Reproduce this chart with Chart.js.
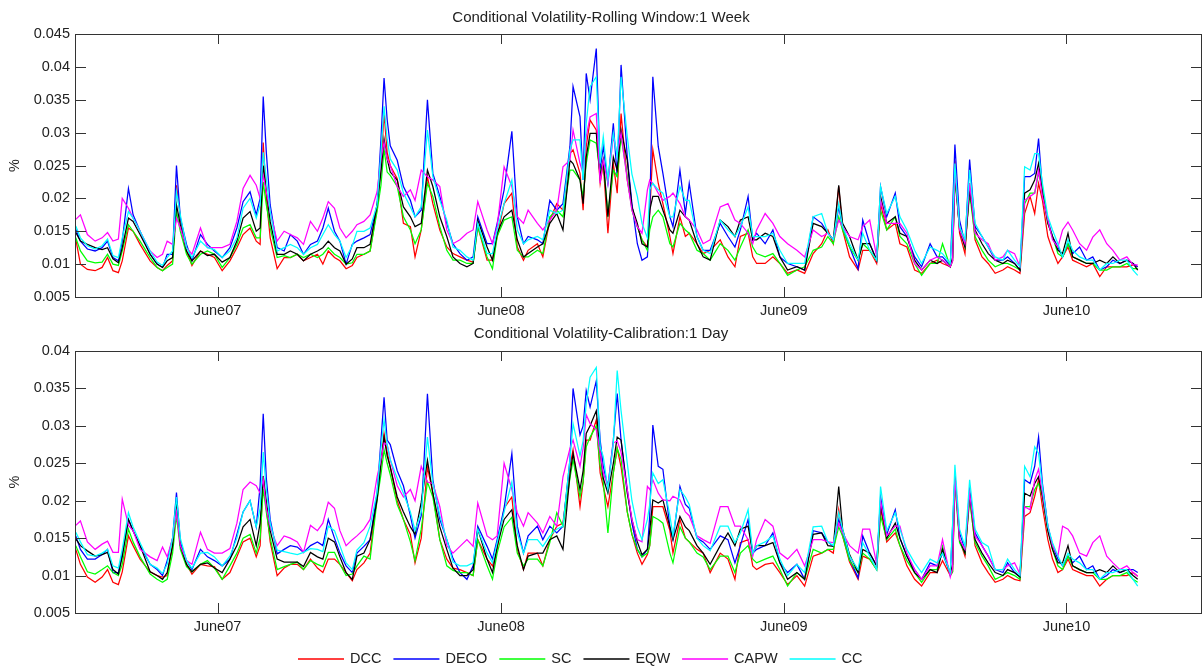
<!DOCTYPE html>
<html>
<head>
<meta charset="utf-8">
<title>Conditional Volatility</title>
<script src="https://cdn.jsdelivr.net/npm/chart.js@4.4.0/dist/chart.umd.min.js"></script>
<style>
  html, body { margin: 0; padding: 0; background: #fff; }
  body { width: 1204px; height: 671px; position: relative; overflow: hidden; }
  canvas { position: absolute; left: 0; }
  #week { top: 0; }
  #day { top: 316px; }
</style>
</head>
<body>
<canvas id="week" width="1204" height="318"></canvas>
<canvas id="day" width="1204" height="355"></canvas>
<script>
// days counted from 1 Dec 2006
var days = [
  -1,5,14,24,33,40,47,54,59,67,
  73,82,95,104,111,117,124,129,134,142,
  149,160,169,178,188,198,207,215,224,232,
  237,241,245,250,259,268,276,285,293,302,
  311,318,325,333,340,348,356,362,371,379,
  388,393,397,401,405,414,422,431,437,445,
  453,460,469,478,486,495,504,512,518,530,
  537,543,552,562,569,577,583,595,602,611,
  620,628,637,641,650,654,658,663,671,676,
  680,686,693,698,703,711,717,724,730,737,
  740,744,751,757,766,770,779,786,791,801,
  809,818,831,841,850,857,867,873,878,889,
  899,908,918,930,940,951,962,970,977,984,
  989,998,1009,1015,1024,1033,1038,1046,1057,1063,
  1072,1082,1091,1102,1111,1118,1128,1131,1134,1140,
  1147,1153,1160,1169,1177,1186,1196,1202,1211,1218,
  1224,1231,1237,1242,1247,1254,1260,1267,1273,1280,
  1286,1295,1304,1312,1321,1330,1338,1347,1356,1364,1370
];
var xTickDays = [182, 548, 913, 1278];
var xTickLabels = ['June07', 'June08', 'June09', 'June10'];

var seriesNames = ['DCC', 'DECO', 'SC', 'EQW', 'CAPW', 'CC'];
var seriesColors = ['#ff0000', '#0000ff', '#00ff00', '#000000', '#ff00ff', '#00ffff'];

var yTicksWeek = [0.005, 0.01, 0.015, 0.02, 0.025, 0.03, 0.035, 0.04, 0.045];
var yLabelsWeek = ['0.005', '0.01', '0.015', '0.02', '0.025', '0.03', '0.035', '0.04', '0.045'];
var yTicksDay = [0.005, 0.01, 0.015, 0.02, 0.025, 0.03, 0.035, 0.04];
var yLabelsDay = ['0.005', '0.01', '0.015', '0.02', '0.025', '0.03', '0.035', '0.04'];

// Rolling Window: 1 Week
var dccWeek = [
  0.0138,0.0100,0.0092,0.0090,0.0095,0.0110,0.0090,0.0087,0.0105,0.0155,
  0.0150,0.0130,0.0105,0.0095,0.0090,0.0098,0.0105,0.0220,0.0170,0.0120,
  0.0098,0.0120,0.0115,0.0110,0.0090,0.0105,0.0125,0.0145,0.0155,0.0135,
  0.0130,0.0285,0.0200,0.0140,0.0093,0.0110,0.0110,0.0115,0.0105,0.0110,
  0.0115,0.0100,0.0120,0.0110,0.0105,0.0093,0.0098,0.0110,0.0115,0.0120,
  0.0185,0.0250,0.0330,0.0270,0.0250,0.0230,0.0162,0.0157,0.0111,0.0152,
  0.0233,0.0192,0.0152,0.0126,0.0116,0.0111,0.0106,0.0103,0.0157,0.0106,
  0.0106,0.0142,0.0192,0.0208,0.0126,0.0106,0.0121,0.0131,0.0111,0.0167,
  0.0192,0.0182,0.0268,0.0274,0.0238,0.0182,0.0279,0.0319,0.0304,0.0223,
  0.0253,0.0147,0.0253,0.0208,0.0329,0.0228,0.0187,0.0157,0.0137,0.0126,
  0.0177,0.0274,0.0223,0.0192,0.0142,0.0116,0.0172,0.0142,0.0147,0.0131,
  0.0116,0.0121,0.0137,0.0111,0.0096,0.0142,0.0147,0.0111,0.0101,0.0101,
  0.0111,0.0101,0.0086,0.0091,0.0086,0.0116,0.0131,0.0152,0.0131,0.0218,
  0.0152,0.0111,0.0091,0.0121,0.0121,0.0101,0.0192,0.0152,0.0162,0.0131,
  0.0126,0.0091,0.0086,0.0101,0.0106,0.0101,0.0096,0.0105,0.0258,0.0147,
  0.0116,0.0223,0.0137,0.0111,0.0101,0.0086,0.0091,0.0096,0.0091,0.0086,
  0.0177,0.0203,0.0177,0.0223,0.0197,0.0142,0.0121,0.0101,0.0111,0.0126,
  0.0106,0.0101,0.0096,0.0101,0.0081,0.0096,0.0096,0.0096,0.0096,0.0099,0.0096
];
var decoWeek = [
  0.0153,0.0135,0.0123,0.0120,0.0125,0.0135,0.0110,0.0105,0.0135,0.0215,
  0.0175,0.0150,0.0115,0.0100,0.0095,0.0115,0.0115,0.0250,0.0170,0.0130,
  0.0105,0.0145,0.0130,0.0120,0.0110,0.0125,0.0155,0.0195,0.0210,0.0175,
  0.0200,0.0355,0.0270,0.0190,0.0125,0.0120,0.0145,0.0135,0.0115,0.0130,
  0.0135,0.0155,0.0185,0.0150,0.0135,0.0100,0.0130,0.0135,0.0140,0.0145,
  0.0190,0.0290,0.0383,0.0320,0.0280,0.0258,0.0218,0.0197,0.0172,0.0182,
  0.0350,0.0238,0.0203,0.0162,0.0131,0.0116,0.0106,0.0111,0.0172,0.0131,
  0.0131,0.0162,0.0213,0.0302,0.0172,0.0131,0.0142,0.0137,0.0131,0.0197,
  0.0182,0.0192,0.0279,0.0370,0.0324,0.0228,0.0390,0.0350,0.0428,0.0243,
  0.0279,0.0223,0.0314,0.0233,0.0403,0.0263,0.0192,0.0131,0.0106,0.0111,
  0.0182,0.0385,0.0279,0.0238,0.0172,0.0157,0.0243,0.0177,0.0223,0.0142,
  0.0121,0.0121,0.0162,0.0142,0.0126,0.0152,0.0203,0.0137,0.0147,0.0131,
  0.0152,0.0111,0.0101,0.0096,0.0091,0.0172,0.0162,0.0147,0.0137,0.0187,
  0.0157,0.0126,0.0093,0.0167,0.0131,0.0106,0.0218,0.0172,0.0208,0.0157,
  0.0142,0.0111,0.0096,0.0131,0.0111,0.0111,0.0098,0.0182,0.0282,0.0167,
  0.0131,0.0259,0.0157,0.0142,0.0126,0.0106,0.0106,0.0111,0.0101,0.0091,
  0.0233,0.0233,0.0238,0.0291,0.0213,0.0167,0.0142,0.0126,0.0111,0.0131,
  0.0116,0.0126,0.0106,0.0111,0.0091,0.0096,0.0106,0.0101,0.0106,0.0101,0.0096
];
var scWeek = [
  0.0140,0.0120,0.0105,0.0102,0.0103,0.0115,0.0100,0.0098,0.0120,0.0160,
  0.0150,0.0135,0.0110,0.0095,0.0090,0.0095,0.0100,0.0180,0.0150,0.0115,
  0.0100,0.0115,0.0120,0.0115,0.0095,0.0110,0.0130,0.0155,0.0160,0.0140,
  0.0140,0.0225,0.0190,0.0155,0.0110,0.0113,0.0110,0.0115,0.0110,0.0115,
  0.0110,0.0115,0.0125,0.0115,0.0110,0.0100,0.0102,0.0115,0.0115,0.0120,
  0.0180,0.0220,0.0275,0.0240,0.0235,0.0218,0.0172,0.0152,0.0131,0.0152,
  0.0223,0.0203,0.0157,0.0121,0.0106,0.0106,0.0101,0.0101,0.0157,0.0111,
  0.0093,0.0142,0.0167,0.0172,0.0121,0.0111,0.0111,0.0121,0.0116,0.0172,
  0.0182,0.0172,0.0243,0.0243,0.0228,0.0203,0.0253,0.0289,0.0284,0.0238,
  0.0258,0.0177,0.0243,0.0233,0.0294,0.0233,0.0182,0.0157,0.0137,0.0121,
  0.0152,0.0172,0.0182,0.0172,0.0131,0.0126,0.0162,0.0152,0.0147,0.0121,
  0.0116,0.0106,0.0131,0.0121,0.0106,0.0126,0.0152,0.0126,0.0116,0.0111,
  0.0116,0.0101,0.0083,0.0091,0.0096,0.0121,0.0126,0.0142,0.0131,0.0172,
  0.0152,0.0126,0.0106,0.0131,0.0121,0.0106,0.0182,0.0152,0.0172,0.0142,
  0.0131,0.0101,0.0083,0.0101,0.0101,0.0131,0.0096,0.0105,0.0228,0.0157,
  0.0126,0.0208,0.0142,0.0121,0.0106,0.0096,0.0101,0.0101,0.0096,0.0091,
  0.0192,0.0208,0.0208,0.0238,0.0218,0.0162,0.0142,0.0116,0.0111,0.0131,
  0.0111,0.0106,0.0101,0.0101,0.0091,0.0091,0.0096,0.0096,0.0101,0.0093,0.0093
];
var eqwWeek = [
  0.0148,0.0135,0.0130,0.0125,0.0122,0.0125,0.0108,0.0102,0.0125,0.0170,
  0.0165,0.0145,0.0115,0.0100,0.0095,0.0105,0.0110,0.0190,0.0160,0.0120,
  0.0105,0.0120,0.0113,0.0115,0.0103,0.0110,0.0135,0.0170,0.0180,0.0150,
  0.0155,0.0250,0.0210,0.0165,0.0115,0.0115,0.0120,0.0115,0.0105,0.0115,
  0.0120,0.0125,0.0135,0.0125,0.0120,0.0100,0.0108,0.0125,0.0125,0.0130,
  0.0190,0.0240,0.0290,0.0260,0.0240,0.0228,0.0187,0.0172,0.0157,0.0162,
  0.0243,0.0218,0.0172,0.0142,0.0111,0.0101,0.0096,0.0101,0.0167,0.0126,
  0.0106,0.0147,0.0172,0.0182,0.0137,0.0111,0.0116,0.0126,0.0131,0.0162,
  0.0177,0.0152,0.0258,0.0253,0.0228,0.0192,0.0263,0.0299,0.0299,0.0233,
  0.0258,0.0172,0.0263,0.0243,0.0304,0.0258,0.0187,0.0162,0.0131,0.0126,
  0.0182,0.0203,0.0203,0.0182,0.0152,0.0147,0.0182,0.0172,0.0167,0.0131,
  0.0111,0.0106,0.0167,0.0157,0.0142,0.0167,0.0172,0.0137,0.0137,0.0147,
  0.0142,0.0111,0.0091,0.0096,0.0091,0.0162,0.0157,0.0147,0.0137,0.0220,
  0.0162,0.0142,0.0106,0.0131,0.0131,0.0106,0.0203,0.0162,0.0172,0.0147,
  0.0142,0.0106,0.0091,0.0106,0.0101,0.0106,0.0096,0.0110,0.0238,0.0152,
  0.0126,0.0213,0.0152,0.0131,0.0116,0.0106,0.0101,0.0106,0.0101,0.0091,
  0.0208,0.0213,0.0228,0.0253,0.0208,0.0162,0.0142,0.0121,0.0116,0.0147,
  0.0111,0.0106,0.0101,0.0101,0.0106,0.0101,0.0111,0.0101,0.0106,0.0101,0.0091
];
var capwWeek = [
  0.0168,0.0175,0.0145,0.0135,0.0140,0.0148,0.0135,0.0138,0.0200,0.0185,
  0.0170,0.0150,0.0120,0.0110,0.0115,0.0135,0.0130,0.0170,0.0155,0.0125,
  0.0115,0.0155,0.0125,0.0125,0.0125,0.0130,0.0165,0.0215,0.0235,0.0220,
  0.0200,0.0235,0.0210,0.0180,0.0135,0.0150,0.0145,0.0140,0.0130,0.0165,
  0.0150,0.0170,0.0195,0.0185,0.0155,0.0140,0.0150,0.0160,0.0165,0.0175,
  0.0210,0.0260,0.0285,0.0260,0.0250,0.0218,0.0203,0.0213,0.0197,0.0243,
  0.0233,0.0228,0.0218,0.0152,0.0131,0.0137,0.0147,0.0152,0.0195,0.0152,
  0.0131,0.0157,0.0248,0.0218,0.0172,0.0162,0.0182,0.0162,0.0152,0.0167,
  0.0182,0.0248,0.0258,0.0304,0.0253,0.0238,0.0294,0.0324,0.0329,0.0223,
  0.0258,0.0223,0.0294,0.0268,0.0299,0.0228,0.0182,0.0157,0.0147,0.0213,
  0.0228,0.0223,0.0208,0.0197,0.0203,0.0208,0.0192,0.0172,0.0167,0.0152,
  0.0131,0.0137,0.0187,0.0192,0.0167,0.0162,0.0147,0.0131,0.0152,0.0177,
  0.0162,0.0142,0.0131,0.0121,0.0111,0.0152,0.0142,0.0147,0.0137,0.0167,
  0.0157,0.0142,0.0137,0.0157,0.0167,0.0111,0.0197,0.0162,0.0162,0.0162,
  0.0147,0.0101,0.0091,0.0106,0.0111,0.0106,0.0096,0.0105,0.0243,0.0152,
  0.0131,0.0223,0.0147,0.0137,0.0131,0.0106,0.0111,0.0121,0.0116,0.0096,
  0.0197,0.0203,0.0208,0.0243,0.0203,0.0167,0.0137,0.0126,0.0152,0.0164,
  0.0152,0.0131,0.0121,0.0141,0.0152,0.0131,0.0121,0.0106,0.0111,0.0099,0.0099
];
var ccWeek = [
  0.0158,0.0140,0.0128,0.0123,0.0128,0.0138,0.0113,0.0110,0.0140,0.0180,
  0.0170,0.0150,0.0120,0.0103,0.0098,0.0110,0.0120,0.0210,0.0175,0.0125,
  0.0110,0.0135,0.0125,0.0122,0.0110,0.0120,0.0140,0.0185,0.0200,0.0170,
  0.0190,0.0270,0.0230,0.0180,0.0120,0.0125,0.0130,0.0125,0.0115,0.0125,
  0.0130,0.0145,0.0160,0.0145,0.0135,0.0110,0.0128,0.0150,0.0150,0.0155,
  0.0190,0.0270,0.0340,0.0290,0.0260,0.0243,0.0208,0.0187,0.0172,0.0187,
  0.0304,0.0233,0.0197,0.0167,0.0126,0.0121,0.0111,0.0106,0.0162,0.0116,
  0.0116,0.0152,0.0192,0.0228,0.0152,0.0131,0.0137,0.0142,0.0137,0.0182,
  0.0177,0.0182,0.0274,0.0289,0.0289,0.0228,0.0314,0.0370,0.0385,0.0253,
  0.0294,0.0228,0.0299,0.0263,0.0385,0.0294,0.0237,0.0203,0.0162,0.0140,
  0.0213,0.0223,0.0213,0.0208,0.0172,0.0172,0.0218,0.0197,0.0197,0.0142,
  0.0121,0.0116,0.0167,0.0152,0.0142,0.0157,0.0187,0.0142,0.0142,0.0142,
  0.0147,0.0121,0.0101,0.0101,0.0101,0.0172,0.0177,0.0147,0.0137,0.0192,
  0.0157,0.0131,0.0106,0.0147,0.0121,0.0106,0.0218,0.0177,0.0203,0.0172,
  0.0152,0.0121,0.0101,0.0126,0.0121,0.0116,0.0101,0.0162,0.0253,0.0157,
  0.0137,0.0243,0.0162,0.0142,0.0126,0.0111,0.0106,0.0121,0.0106,0.0096,
  0.0248,0.0243,0.0268,0.0268,0.0223,0.0172,0.0152,0.0131,0.0111,0.0137,
  0.0121,0.0111,0.0106,0.0106,0.0091,0.0101,0.0101,0.0106,0.0106,0.0091,0.0083
];

// Calibration: 1 Day
var dccDay = [
  0.0135,0.0115,0.0098,0.0091,0.0098,0.0108,0.0091,0.0088,0.0105,0.0153,
  0.0140,0.0122,0.0105,0.0100,0.0098,0.0100,0.0140,0.0188,0.0140,0.0115,
  0.0102,0.0115,0.0113,0.0112,0.0095,0.0104,0.0125,0.0145,0.0150,0.0125,
  0.0140,0.0233,0.0190,0.0145,0.0100,0.0110,0.0115,0.0115,0.0108,0.0122,
  0.0110,0.0104,0.0122,0.0122,0.0115,0.0104,0.0093,0.0108,0.0117,0.0130,
  0.0206,0.0250,0.0290,0.0265,0.0245,0.0200,0.0175,0.0155,0.0117,0.0150,
  0.0245,0.0210,0.0148,0.0122,0.0110,0.0108,0.0104,0.0100,0.0148,0.0122,
  0.0113,0.0135,0.0190,0.0205,0.0135,0.0108,0.0130,0.0130,0.0113,0.0148,
  0.0166,0.0170,0.0246,0.0268,0.0192,0.0225,0.0281,0.0281,0.0308,0.0237,
  0.0219,0.0192,0.0237,0.0270,0.0245,0.0185,0.0155,0.0130,0.0115,0.0128,
  0.0140,0.0192,0.0192,0.0192,0.0160,0.0130,0.0175,0.0150,0.0145,0.0135,
  0.0130,0.0104,0.0130,0.0122,0.0095,0.0144,0.0148,0.0113,0.0108,0.0115,
  0.0117,0.0104,0.0088,0.0100,0.0086,0.0126,0.0130,0.0135,0.0130,0.0188,
  0.0153,0.0118,0.0095,0.0126,0.0122,0.0108,0.0190,0.0145,0.0157,0.0140,
  0.0113,0.0095,0.0086,0.0104,0.0104,0.0120,0.0100,0.0105,0.0228,0.0148,
  0.0126,0.0206,0.0140,0.0117,0.0104,0.0091,0.0095,0.0100,0.0095,0.0093,
  0.0179,0.0184,0.0206,0.0228,0.0192,0.0148,0.0122,0.0104,0.0108,0.0122,
  0.0108,0.0104,0.0100,0.0100,0.0086,0.0095,0.0100,0.0100,0.0100,0.0104,0.0099
];
var decoDay = [
  0.0153,0.0135,0.0122,0.0122,0.0128,0.0135,0.0104,0.0104,0.0130,0.0175,
  0.0160,0.0140,0.0115,0.0108,0.0100,0.0120,0.0150,0.0211,0.0145,0.0120,
  0.0108,0.0135,0.0125,0.0120,0.0113,0.0122,0.0155,0.0185,0.0200,0.0165,
  0.0220,0.0316,0.0230,0.0175,0.0129,0.0135,0.0140,0.0138,0.0131,0.0140,
  0.0145,0.0140,0.0175,0.0150,0.0130,0.0113,0.0104,0.0130,0.0139,0.0148,
  0.0210,0.0280,0.0338,0.0281,0.0275,0.0240,0.0220,0.0180,0.0150,0.0180,
  0.0343,0.0228,0.0175,0.0148,0.0123,0.0104,0.0095,0.0113,0.0166,0.0139,
  0.0122,0.0148,0.0190,0.0263,0.0166,0.0130,0.0153,0.0166,0.0148,0.0166,
  0.0157,0.0166,0.0255,0.0350,0.0288,0.0300,0.0347,0.0325,0.0360,0.0281,
  0.0246,0.0219,0.0281,0.0343,0.0281,0.0215,0.0170,0.0135,0.0125,0.0135,
  0.0180,0.0301,0.0246,0.0242,0.0165,0.0148,0.0219,0.0195,0.0190,0.0150,
  0.0145,0.0135,0.0153,0.0148,0.0117,0.0140,0.0175,0.0130,0.0135,0.0140,
  0.0157,0.0117,0.0104,0.0115,0.0095,0.0160,0.0157,0.0145,0.0139,0.0175,
  0.0158,0.0122,0.0097,0.0153,0.0130,0.0113,0.0205,0.0155,0.0188,0.0150,
  0.0126,0.0108,0.0095,0.0117,0.0113,0.0130,0.0102,0.0166,0.0232,0.0157,
  0.0135,0.0215,0.0157,0.0140,0.0126,0.0108,0.0104,0.0117,0.0104,0.0098,
  0.0228,0.0223,0.0246,0.0285,0.0223,0.0166,0.0140,0.0122,0.0113,0.0126,
  0.0117,0.0126,0.0108,0.0113,0.0095,0.0100,0.0108,0.0104,0.0108,0.0108,0.0104
];
var scDay = [
  0.0140,0.0125,0.0105,0.0102,0.0108,0.0113,0.0104,0.0100,0.0115,0.0162,
  0.0145,0.0125,0.0102,0.0095,0.0091,0.0095,0.0130,0.0180,0.0135,0.0112,
  0.0105,0.0115,0.0120,0.0110,0.0095,0.0113,0.0130,0.0150,0.0155,0.0130,
  0.0150,0.0216,0.0185,0.0150,0.0108,0.0112,0.0115,0.0118,0.0108,0.0120,
  0.0115,0.0112,0.0131,0.0131,0.0115,0.0100,0.0102,0.0113,0.0126,0.0122,
  0.0201,0.0235,0.0268,0.0250,0.0235,0.0195,0.0175,0.0145,0.0120,0.0162,
  0.0225,0.0205,0.0148,0.0113,0.0107,0.0104,0.0104,0.0100,0.0148,0.0113,
  0.0095,0.0130,0.0165,0.0178,0.0130,0.0113,0.0122,0.0122,0.0113,0.0144,
  0.0184,0.0166,0.0230,0.0255,0.0205,0.0225,0.0272,0.0285,0.0300,0.0246,
  0.0225,0.0157,0.0237,0.0270,0.0255,0.0185,0.0155,0.0135,0.0125,0.0130,
  0.0140,0.0179,0.0175,0.0170,0.0130,0.0117,0.0165,0.0150,0.0145,0.0130,
  0.0125,0.0108,0.0126,0.0126,0.0104,0.0130,0.0140,0.0122,0.0117,0.0122,
  0.0126,0.0108,0.0086,0.0104,0.0095,0.0135,0.0130,0.0135,0.0135,0.0165,
  0.0153,0.0120,0.0104,0.0130,0.0122,0.0108,0.0180,0.0148,0.0162,0.0140,
  0.0120,0.0104,0.0091,0.0108,0.0108,0.0139,0.0100,0.0105,0.0223,0.0144,
  0.0130,0.0201,0.0144,0.0126,0.0113,0.0095,0.0100,0.0104,0.0100,0.0095,
  0.0192,0.0192,0.0215,0.0223,0.0206,0.0160,0.0135,0.0113,0.0108,0.0126,
  0.0113,0.0108,0.0104,0.0104,0.0095,0.0095,0.0100,0.0100,0.0104,0.0095,0.0091
];
var eqwDay = [
  0.0149,0.0140,0.0133,0.0126,0.0128,0.0131,0.0108,0.0102,0.0125,0.0175,
  0.0160,0.0140,0.0105,0.0100,0.0095,0.0104,0.0140,0.0200,0.0140,0.0115,
  0.0105,0.0115,0.0117,0.0110,0.0104,0.0122,0.0140,0.0165,0.0175,0.0140,
  0.0170,0.0233,0.0200,0.0160,0.0122,0.0118,0.0118,0.0118,0.0112,0.0131,
  0.0125,0.0122,0.0150,0.0145,0.0125,0.0104,0.0095,0.0126,0.0130,0.0148,
  0.0201,0.0250,0.0285,0.0260,0.0245,0.0205,0.0185,0.0165,0.0155,0.0198,
  0.0254,0.0210,0.0165,0.0135,0.0110,0.0100,0.0100,0.0108,0.0162,0.0122,
  0.0104,0.0139,0.0175,0.0188,0.0140,0.0108,0.0126,0.0130,0.0130,0.0148,
  0.0153,0.0135,0.0235,0.0263,0.0215,0.0240,0.0290,0.0300,0.0320,0.0265,
  0.0230,0.0210,0.0250,0.0285,0.0281,0.0210,0.0175,0.0145,0.0128,0.0135,
  0.0160,0.0201,0.0197,0.0201,0.0165,0.0148,0.0179,0.0165,0.0160,0.0140,
  0.0130,0.0115,0.0140,0.0157,0.0140,0.0162,0.0166,0.0130,0.0140,0.0140,
  0.0144,0.0117,0.0095,0.0104,0.0095,0.0155,0.0157,0.0140,0.0139,0.0219,
  0.0162,0.0128,0.0104,0.0135,0.0130,0.0113,0.0195,0.0150,0.0170,0.0150,
  0.0126,0.0104,0.0095,0.0108,0.0104,0.0135,0.0102,0.0115,0.0237,0.0148,
  0.0130,0.0210,0.0148,0.0130,0.0117,0.0104,0.0100,0.0108,0.0104,0.0098,
  0.0210,0.0206,0.0223,0.0232,0.0206,0.0160,0.0135,0.0117,0.0117,0.0140,
  0.0113,0.0108,0.0104,0.0104,0.0108,0.0104,0.0113,0.0104,0.0108,0.0100,0.0095
];
var capwDay = [
  0.0167,0.0173,0.0145,0.0135,0.0142,0.0146,0.0131,0.0131,0.0202,0.0167,
  0.0160,0.0135,0.0125,0.0120,0.0138,0.0125,0.0150,0.0185,0.0140,0.0120,
  0.0115,0.0158,0.0135,0.0130,0.0130,0.0136,0.0170,0.0215,0.0225,0.0220,
  0.0210,0.0229,0.0190,0.0165,0.0140,0.0153,0.0150,0.0145,0.0131,0.0167,
  0.0160,0.0170,0.0198,0.0190,0.0160,0.0140,0.0148,0.0153,0.0162,0.0175,
  0.0232,0.0255,0.0277,0.0275,0.0255,0.0220,0.0205,0.0215,0.0200,0.0246,
  0.0225,0.0223,0.0192,0.0140,0.0130,0.0139,0.0148,0.0139,0.0197,0.0153,
  0.0148,0.0153,0.0250,0.0215,0.0184,0.0166,0.0184,0.0170,0.0157,0.0179,
  0.0166,0.0232,0.0270,0.0281,0.0246,0.0270,0.0315,0.0303,0.0295,0.0265,
  0.0237,0.0219,0.0277,0.0280,0.0265,0.0215,0.0175,0.0148,0.0145,0.0219,
  0.0215,0.0228,0.0210,0.0201,0.0200,0.0206,0.0201,0.0185,0.0180,0.0153,
  0.0148,0.0143,0.0192,0.0192,0.0166,0.0166,0.0148,0.0126,0.0148,0.0175,
  0.0166,0.0130,0.0122,0.0135,0.0113,0.0148,0.0148,0.0145,0.0144,0.0170,
  0.0157,0.0140,0.0130,0.0162,0.0162,0.0115,0.0200,0.0153,0.0166,0.0166,
  0.0130,0.0108,0.0095,0.0113,0.0113,0.0148,0.0098,0.0110,0.0232,0.0148,
  0.0135,0.0210,0.0153,0.0140,0.0126,0.0108,0.0108,0.0113,0.0117,0.0102,
  0.0192,0.0188,0.0228,0.0242,0.0210,0.0166,0.0140,0.0126,0.0166,0.0162,
  0.0153,0.0130,0.0126,0.0144,0.0153,0.0126,0.0117,0.0108,0.0113,0.0104,0.0099
];
var ccDay = [
  0.0158,0.0145,0.0128,0.0126,0.0130,0.0135,0.0113,0.0110,0.0135,0.0184,
  0.0165,0.0144,0.0115,0.0110,0.0103,0.0115,0.0150,0.0205,0.0150,0.0120,
  0.0110,0.0130,0.0131,0.0125,0.0113,0.0126,0.0150,0.0185,0.0200,0.0165,
  0.0190,0.0265,0.0215,0.0170,0.0134,0.0132,0.0130,0.0128,0.0131,0.0136,
  0.0135,0.0132,0.0166,0.0160,0.0140,0.0117,0.0108,0.0134,0.0144,0.0166,
  0.0211,0.0270,0.0308,0.0275,0.0255,0.0230,0.0210,0.0185,0.0160,0.0185,
  0.0285,0.0223,0.0180,0.0148,0.0118,0.0113,0.0113,0.0117,0.0162,0.0130,
  0.0117,0.0144,0.0185,0.0225,0.0157,0.0130,0.0148,0.0148,0.0139,0.0153,
  0.0162,0.0166,0.0255,0.0303,0.0260,0.0280,0.0330,0.0365,0.0378,0.0272,
  0.0259,0.0215,0.0277,0.0374,0.0320,0.0250,0.0200,0.0165,0.0148,0.0175,
  0.0195,0.0237,0.0223,0.0228,0.0180,0.0153,0.0215,0.0205,0.0195,0.0150,
  0.0140,0.0133,0.0166,0.0166,0.0144,0.0157,0.0188,0.0130,0.0140,0.0145,
  0.0153,0.0122,0.0100,0.0115,0.0104,0.0165,0.0166,0.0145,0.0140,0.0184,
  0.0162,0.0126,0.0108,0.0144,0.0126,0.0108,0.0219,0.0160,0.0184,0.0162,
  0.0135,0.0117,0.0104,0.0122,0.0117,0.0130,0.0104,0.0170,0.0248,0.0162,
  0.0139,0.0228,0.0162,0.0144,0.0139,0.0108,0.0108,0.0122,0.0108,0.0100,
  0.0246,0.0232,0.0272,0.0263,0.0219,0.0166,0.0144,0.0126,0.0113,0.0130,
  0.0122,0.0117,0.0108,0.0108,0.0095,0.0104,0.0104,0.0108,0.0108,0.0095,0.0086
];

var FONT = "'Liberation Sans', Arial, sans-serif";
Chart.defaults.font.family = FONT;
Chart.defaults.color = '#222';

// box round the plot area with inward ticks on all four sides (matlab look)
var frameTicks = {
  id: 'frameTicks',
  afterDraw: function (chart) {
    var ctx = chart.ctx, a = chart.chartArea, x = chart.scales.x, y = chart.scales.y;
    ctx.save();
    ctx.strokeStyle = '#333';
    ctx.lineWidth = 1;
    ctx.beginPath();
    x.ticks.forEach(function (t) {
      var px = Math.round(x.getPixelForValue(t.value)) + 0.5;
      ctx.moveTo(px, a.bottom); ctx.lineTo(px, a.bottom - 10);
      ctx.moveTo(px, a.top); ctx.lineTo(px, a.top + 10);
    });
    y.ticks.forEach(function (t) {
      var py = Math.round(y.getPixelForValue(t.value)) + 0.5;
      ctx.moveTo(a.left, py); ctx.lineTo(a.left + 11, py);
      ctx.moveTo(a.right, py); ctx.lineTo(a.right - 11, py);
    });
    ctx.stroke();
    ctx.strokeRect(Math.round(a.left) + 0.5, Math.round(a.top) + 0.5,
                   Math.round(a.right - a.left) - 1, Math.round(a.bottom - a.top));
    ctx.restore();
  }
};

// one-row legend under the lower panel
var bottomLegend = {
  id: 'bottomLegend',
  afterDraw: function (chart) {
    var ctx = chart.ctx;
    var x = 298, y = Math.round(chart.chartArea.bottom) + 46;
    ctx.save();
    ctx.font = '14.5px ' + FONT;
    ctx.textBaseline = 'middle';
    ctx.lineWidth = 1.5;
    chart.data.datasets.forEach(function (ds) {
      ctx.strokeStyle = ds.borderColor;
      ctx.beginPath();
      ctx.moveTo(x, y); ctx.lineTo(x + 46, y);
      ctx.stroke();
      ctx.fillStyle = '#222';
      ctx.fillText(ds.label, x + 52, y);
      x += 52 + ctx.measureText(ds.label).width + 12;
    });
    ctx.restore();
  }
};

function makeChart(id, title, series, yTicks, yLabels, titlePad, xHeight, extra) {
  var tickFont = { size: 14.5 };
  return new Chart(document.getElementById(id), {
    type: 'line',
    data: {
      datasets: series.map(function (vals, k) {
        return {
          label: seriesNames[k],
          data: days.map(function (d, i) { return { x: d, y: vals[i] }; }),
          borderColor: seriesColors[k],
          borderWidth: 1.25,
          pointRadius: 0,
          tension: 0,
          fill: false,
          order: series.length - 1 - k
        };
      })
    },
    options: {
      responsive: false,
      animation: false,
      devicePixelRatio: 1,
      events: [],
      layout: { padding: { left: 0, right: 2, top: 0, bottom: 0 } },
      plugins: {
        legend: { display: false },
        tooltip: { enabled: false },
        title: { display: true, text: title, color: '#222', font: { size: 15, weight: 'normal' }, padding: titlePad }
      },
      scales: {
        x: {
          type: 'linear', min: -2, max: 1453,
          grid: { display: false, drawTicks: false },
          border: { display: false },
          afterBuildTicks: function (s) { s.ticks = xTickDays.map(function (v) { return { value: v }; }); },
          afterFit: function (s) { s.height = xHeight; },
          ticks: { padding: 5, font: tickFont, color: '#222', maxRotation: 0, autoSkip: false,
                   callback: function (v, i) { return xTickLabels[i]; } }
        },
        y: {
          min: yTicks[0], max: yTicks[yTicks.length - 1],
          grid: { display: false, drawTicks: false },
          border: { display: false },
          afterBuildTicks: function (s) { s.ticks = yTicks.map(function (v) { return { value: v }; }); },
          afterFit: function (s) { s.width = 75; },
          ticks: { padding: 5, font: tickFont, color: '#222',
                   callback: function (v, i) { return yLabels[i]; } },
          title: { display: true, text: '%', color: '#222', font: { size: 14.5 }, padding: { top: 6, bottom: 0 } }
        }
      }
    },
    plugins: [frameTicks].concat(extra || [])
  });
}

makeChart('week', 'Conditional Volatility-Rolling Window:1 Week',
  [dccWeek, decoWeek, scWeek, eqwWeek, capwWeek, ccWeek],
  yTicksWeek, yLabelsWeek, { top: 8.5, bottom: 7.5 }, 21);

makeChart('day', 'Conditional Volatility-Calibration:1 Day',
  [dccDay, decoDay, scDay, eqwDay, capwDay, ccDay],
  yTicksDay, yLabelsDay, { top: 8.5, bottom: 8.5 }, 58, [bottomLegend]);
</script>
</body>
</html>
